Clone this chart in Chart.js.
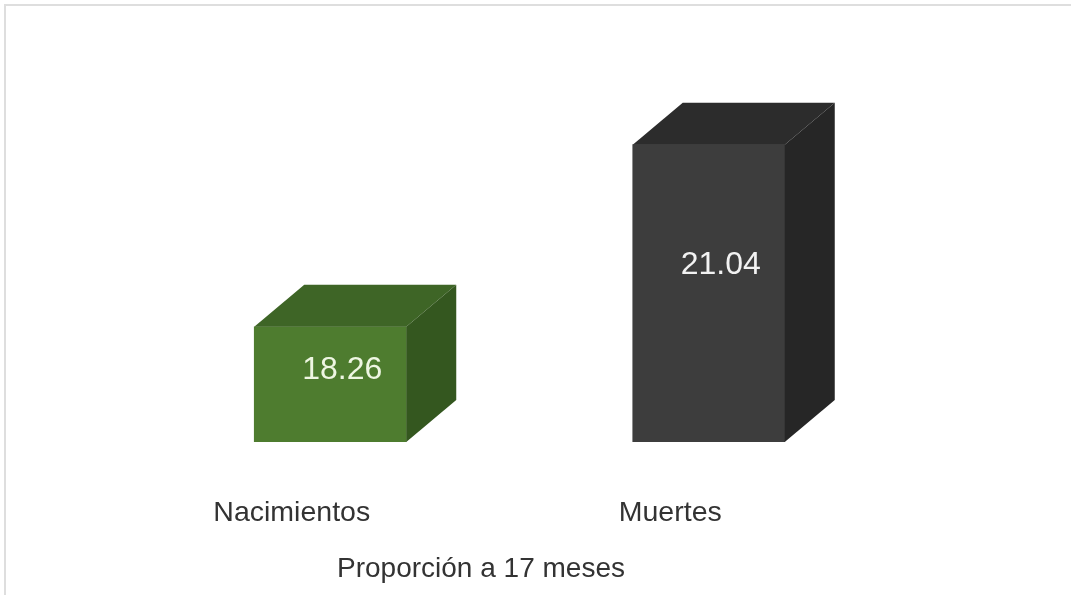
<!DOCTYPE html>
<html>
<head>
<meta charset="utf-8">
<script src="https://cdn.jsdelivr.net/npm/chart.js@4"></script>
<style>
  html, body { margin: 0; padding: 0; background: #fff; overflow: hidden; }
  #frame { position: absolute; left: 4px; top: 4px; width: 2000px; height: 2000px; border: 2px solid #dedede; }
  #wrap { position: absolute; left: 0; top: 0; width: 1071px; height: 595px; }
</style>
</head>
<body>
<div id="frame"></div>
<div id="wrap"><canvas id="chart"></canvas></div>
<script>
"use strict";

const categories = ["Nacimientos", "Muertes"];
const values = [18.26, 21.04];
const axisTitle = "Proporción a 17 meses";

// front / top / side shades for each box
const fronts = ["#4e7c2f", "#3d3d3d"];
const tops = ["#3e6526", "#2c2c2c"];
const sides = ["#34571f", "#262626"];
const valueColors = ["#eef6e2", "#f2f2f2"];

const DX = 50, DY = 42;     // depth of the boxes
const LABEL_SHIFT = 38.5;   // category labels sit left of the box fronts

const boxes = {
  id: "boxes",
  afterDatasetsDraw(chart) {
    const ctx = chart.ctx;
    const meta = chart.getDatasetMeta(0);
    const bottom = chart.scales.y.getPixelForValue(chart.scales.y.min);
    meta.data.forEach((el, i) => {
      const { x, y, width } = el.getProps(["x", "y", "width"], true);
      const base = bottom;
      const l = x - width / 2, r = x + width / 2;
      ctx.save();
      ctx.fillStyle = tops[i];
      ctx.beginPath();
      ctx.moveTo(l, y); ctx.lineTo(l + DX, y - DY); ctx.lineTo(r + DX, y - DY); ctx.lineTo(r, y);
      ctx.closePath(); ctx.fill();
      ctx.fillStyle = sides[i];
      ctx.beginPath();
      ctx.moveTo(r, y); ctx.lineTo(r + DX, y - DY); ctx.lineTo(r + DX, base - DY); ctx.lineTo(r, base);
      ctx.closePath(); ctx.fill();

      const h = base - y;
      ctx.fillStyle = valueColors[i];
      ctx.font = "32px 'Liberation Sans', Arial, sans-serif";
      ctx.textAlign = "center";
      ctx.textBaseline = "middle";
      ctx.fillText(values[i].toFixed(2), x + 12, y + 0.423 * h - 5);

      ctx.fillStyle = "#333";
      ctx.font = "28.5px 'Liberation Sans', Arial, sans-serif";
      ctx.textBaseline = "alphabetic";
      ctx.fillText(categories[i], x - LABEL_SHIFT, 521);
      ctx.restore();
    });
    const xs = meta.data.map((el) => el.x - LABEL_SHIFT);
    ctx.save();
    ctx.fillStyle = "#333";
    ctx.font = "28px 'Liberation Sans', Arial, sans-serif";
    ctx.textAlign = "center";
    ctx.fillText(axisTitle, (xs[0] + xs[xs.length - 1]) / 2, 577);
    ctx.restore();
  },
};

new Chart(document.getElementById("chart"), {
  type: "bar",
  data: {
    labels: categories,
    datasets: [{ data: values, backgroundColor: fronts, borderWidth: 0, barThickness: 152 }],
  },
  options: {
    responsive: true,
    maintainAspectRatio: false,
    animation: false,
    layout: { padding: { left: 141, right: 173, top: 49, bottom: 153 } },
    plugins: { legend: { display: false }, tooltip: { enabled: false } },
    scales: {
      x: { display: false, offset: true },
      y: { display: false, min: 16.5, max: 22.5 },
    },
  },
  plugins: [boxes],
});
</script>
</body>
</html>
